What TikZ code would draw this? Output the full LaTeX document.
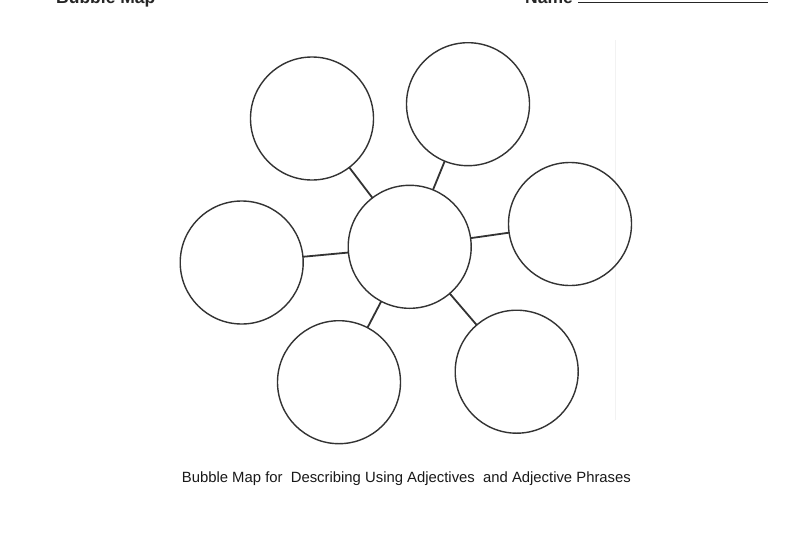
\documentclass[tikz,border=0pt]{standalone}
\usepackage{fontspec}
\setmainfont{Liberation Sans}
\begin{document}
\begin{tikzpicture}[x=1pt,y=-1pt,
  bubble/.style={circle,draw=black!80,line width=1.4pt,minimum size=123pt,inner sep=0pt,outer sep=0pt},
  link/.style={draw=black!80,line width=1.8pt},
  title/.style={font=\fontsize{17.5}{20}\selectfont\bfseries,inner sep=0pt,anchor=base west,text=black!85}]
\fill[white] (0,0) rectangle (800,533);
\useasboundingbox (0,0) rectangle (800,533);
\draw[black!5,line width=1pt] (615,40) -- (615,420);
\node[bubble] (c)  at (409.7,246.8) {};
\node[bubble] (tl) at (312,118.5) {};
\node[bubble] (tr) at (468,104.2) {};
\node[bubble] (r)  at (570,224) {};
\node[bubble] (l)  at (241.7,262.5) {};
\node[bubble] (bl) at (339,382.2) {};
\node[bubble] (br) at (516.7,371.7) {};
\foreach \o in {tl,tr,r,l,bl,br} \draw[link] (c) -- (\o);
\node[title] (t1) at (56,3.5) {Bubble Map};
\node[title] (t2) at (525,3.5) {Name};
\coordinate (ls) at (578,2.5);
\coordinate (le) at (768,2.5);
\draw[black!85,line width=1.2pt] (ls) -- (le);
\node[font=\fontsize{14.85}{17}\selectfont,inner sep=0pt,anchor=base west,text=black!90] (cap) at (181.7,482.3) {Bubble Map for\ \ Describing Using Adjectives\ \ and Adjective Phrases};
\end{tikzpicture}
\end{document}
